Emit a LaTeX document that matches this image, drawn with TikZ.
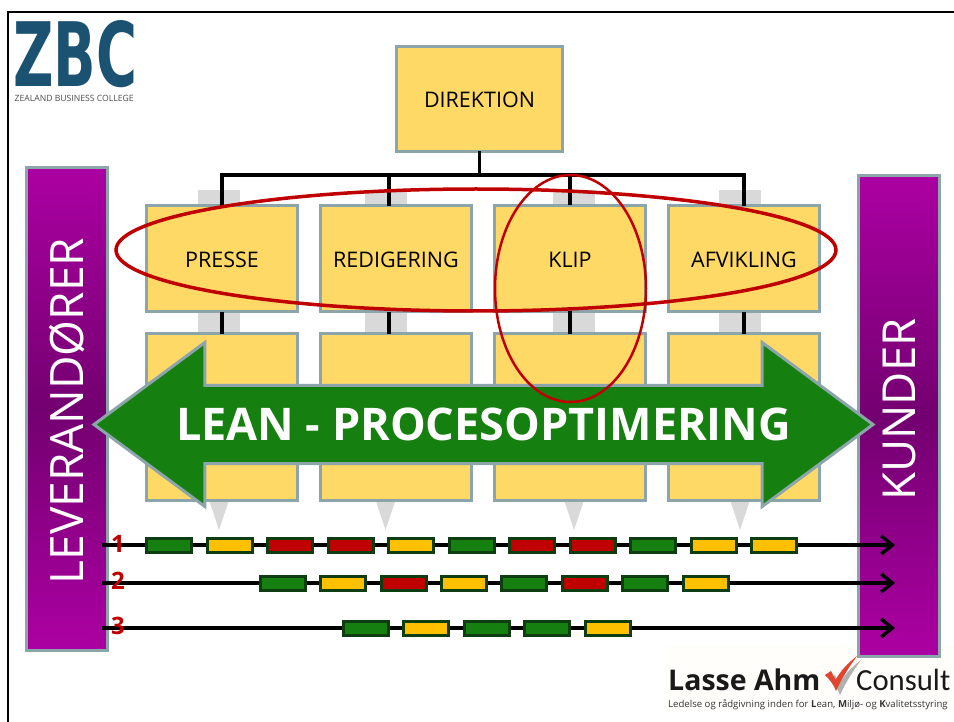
\documentclass[tikz,border=0pt]{standalone}
\usepackage{fontspec}
\setmainfont{Open Sans}
\newfontfamily\consultfont{Carlito}
\newfontfamily\zbcfont{DejaVu Sans}
\usetikzlibrary{matrix,calc,shapes.geometric,shapes.arrows,arrows.meta}
\definecolor{boxfill}{HTML}{FFD966}
\definecolor{boxline}{HTML}{8BA5AB}
\definecolor{barpurple}{HTML}{AC00A2}
\definecolor{bardark}{HTML}{730070}
\definecolor{leangreen}{HTML}{15800F}
\definecolor{chipline}{HTML}{0E3D12}
\definecolor{chipamber}{HTML}{FFC000}
\definecolor{chipred}{HTML}{C00000}
\definecolor{logoblue}{HTML}{1B5272}
\definecolor{shadowgray}{HTML}{D9D9D9}
\definecolor{checkred}{HTML}{E2452F}
\definecolor{logopaper}{HTML}{FFFEFB}
\tikzset{
  box/.style={draw=boxline,fill=boxfill,line width=3pt,outer sep=0pt,inner sep=0pt},
  sidebar/.style={draw=boxline,line width=3pt,top color=barpurple,bottom color=barpurple,
    middle color=bardark,text=white,
    minimum height=81pt,inner sep=0pt,outer sep=0pt,rotate=90},
  tree/.style={line width=3.5pt,black},
  ring/.style={ellipse,draw=chipred,inner sep=0pt,outer sep=0pt},
  flow/.style={line width=3.5pt,black,-{Straight Barb[length=11pt,width=18pt,line width=3.5pt]}},
  chip/.style={draw=chipline,line width=3pt,minimum width=44.5pt,minimum height=14pt,inner sep=0pt,outer sep=0pt,xshift=.5pt},
  rownum/.style={text=chipred,font=\fontsize{24}{24}\selectfont\bfseries,inner sep=0pt}
}
\begin{document}
\begin{tikzpicture}[x=1pt,y=-1pt]
\useasboundingbox (0,0) rectangle (954,722);
\draw[line width=2.5pt] (954,12) -- (8,12) -- (8,722);
% logo top left
\node[inner sep=0pt,text=logoblue,anchor=north west] (zbc) at (13,20)
  {\resizebox{124pt}{66pt}{\zbcfont\bfseries ZBC}};
\node[inner sep=0pt,text=black!70,anchor=base west] (zbctext) at (14.5,102)
  {\resizebox{119pt}{!}{ZEALAND BUSINESS COLLEGE}};
\fill[logopaper] (667,645) rectangle (954,712);
% grey arrows behind the boxes
\foreach \x in {219,385.5,574,740}{
  \fill[shadowgray] (\x-21,190) rectangle (\x+21,205);
  \fill[shadowgray] (\x-21,311) rectangle (\x+21,333);
  \fill[shadowgray] (\x-10,500) -- (\x+10,500) -- (\x,530) -- cycle;
}
\node[box,minimum width=166pt,minimum height=105pt,text height=18pt,font=\fontsize{21.5}{21.5}\selectfont] (dir) at (479.5,99) {DIREKTION};
\matrix (m) [matrix of nodes,anchor=north west,inner sep=0pt,outer sep=0pt,
             nodes={box,minimum width=151pt,text height=17pt,font=\fontsize{21.5}{21.5}\selectfont},
             row 1/.style={nodes={minimum height=106pt}},
             row 2/.style={nodes={minimum height=167pt}},
             nodes in empty cells,column sep=20pt,row sep=19pt
             ] at (145,204)
             {
               PRESSE & REDIGERING & KLIP & AFVIKLING \\
                & & & \\
 };
\coordinate (bus) at (479.5,175);
\draw[tree] (dir.south) -- (bus);
\draw[tree] (m-1-1.north) |- (bus);
\draw[tree] ([xshift=-7pt]m-1-2.north) |- (bus);
\draw[tree] (m-1-3.north) |- (bus);
\draw[tree] (m-1-4.north) |- (bus);
\foreach \c in {1,3,4}
  \draw[tree] (m-1-\c.south) -- (m-2-\c.north);
\draw[tree] ([xshift=-7pt]m-1-2.south) -- ([xshift=-7pt]m-2-2.north);
% side bars
\node[sidebar,minimum width=483pt,font=\fontsize{46}{46}\selectfont] (lev) at (67,409) {LEVERANDØRER\hspace*{4pt}};
\node[sidebar,minimum width=481pt,font=\fontsize{45.5}{45.5}\selectfont] (kun) at (899,416) {\hspace*{13pt}KUNDER};
% flows
\foreach \r/\y in {1/545,2/583,3/628}{
  \coordinate (from\r) at (102,\y);
  \coordinate (to\r) at (895,\y);
  \draw[flow] (from\r) -- (to\r);
}
\foreach \x/\c [count=\i] in {146/leangreen,207/chipamber,267/chipred,328/chipred,388/chipamber,449/leangreen,509/chipred,570/chipred,630/leangreen,691/chipamber,751/chipamber}
  \node[chip,fill=\c,anchor=west] (a\i) at (\x,545) {};
\foreach \x/\c [count=\i] in {260/leangreen,320/chipamber,381/chipred,441/chipamber,501/leangreen,562/chipred,622/leangreen,683/chipamber}
  \node[chip,fill=\c,anchor=west] (b\i) at (\x,583) {};
\foreach \x/\c [count=\i] in {343/leangreen,403/chipamber,464/leangreen,524/leangreen,585/chipamber}
  \node[chip,fill=\c,anchor=west] (c\i) at (\x,628) {};
\node[rownum] (num1) at (118,544) {1};
\node[rownum] (num2) at (118,581) {2};
\node[rownum] (num3) at (118,626) {3};
% big arrow
\node[double arrow,draw=boxline,fill=leangreen,line width=3pt,text=white,inner xsep=0pt,inner ysep=19pt,
      minimum height=779pt,minimum width=164pt,double arrow head extend=40.5pt,
      double arrow tip angle=73,font=\fontsize{45}{45}\selectfont\bfseries] (lean) at (483.5,424.5)
      {LEAN - PROCESOPTIMERING};
% rings
\node[ring,line width=3.5pt,minimum width=720pt,minimum height=122pt] (ringh) at (476,250) {};
\node[ring,line width=2.5pt,minimum width=151pt,minimum height=227pt] (ringv) at (570.5,288.5) {};
% logo bottom right
\node[inner sep=0pt,anchor=base west,font=\fontsize{28.5}{28.5}\selectfont\bfseries,text=black!90] (lasse) at (668,690) {Lasse Ahm};
\fill[black,opacity=.3] (829,679) -- (835,675) -- (839,684) .. controls (845,674) and (852,667) .. (861,660) .. controls (853,671) and (846,682) .. (840,695) .. controls (838,689) and (834,684) .. (829,679) -- cycle;
\fill[checkred] (825,675) -- (831,671) -- (835.5,680) .. controls (841,670) and (848,663) .. (857,656) .. controls (849,667) and (842,678) .. (836,691) .. controls (834,685) and (830,680) .. (825,675) -- cycle;
\node[inner sep=0pt,anchor=base west,font=\consultfont\fontsize{30.7}{30.7}\selectfont,text=black!90] (consult) at (856,690) {Consult};
\node[inner sep=0pt,anchor=base west,font=\fontsize{9.6}{9.6}\selectfont,text=black!80] (ledelse) at (668,707)
  {Ledelse og rådgivning inden for \textbf{L}ean, \textbf{M}iljø- og \textbf{K}valitetsstyring};
\end{tikzpicture}
\end{document}
